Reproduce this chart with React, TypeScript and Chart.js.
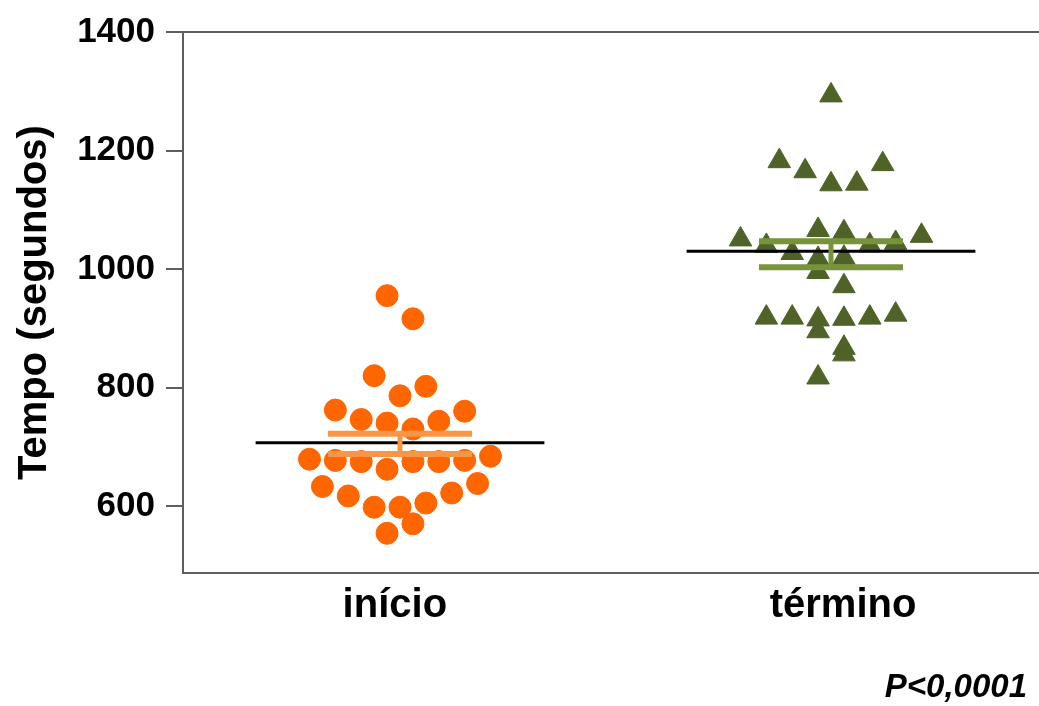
import { useEffect, useRef } from 'react';
import { Chart, registerables } from 'chart.js';

Chart.register(...registerables);

// ---- data ----
const categories = ['início', 'término'];
const yTicks = [600, 800, 1000, 1200, 1400];

const inicioValues = [955, 916, 820, 802, 786, 762, 760, 746, 740, 743, 730, 679, 677, 675, 662, 675, 675, 677, 684, 633, 617, 598, 598, 605, 622, 638, 554, 570];
// swarm column (half-marker steps left/right of the category centre)
const inicioColumns = [-1, 1, -2, 2, 0, -5, 5, -3, -1, 3, 1, -7, -5, -3, -1, 1, 3, 5, 7, -6, -4, -2, 0, 2, 4, 6, -1, 1];

const terminoValues = [1293, 1182, 1165, 1177, 1143, 1144, 1050, 1066, 1062, 1056, 1039, 1027, 1040, 1044, 1017, 1019, 995, 971, 918, 918, 915, 895, 916, 918, 923, 867, 856, 817];
const terminoColumns = [0, -4, -2, 4, 0, 2, -7, -1, 1, 7, -5, -3, 3, 5, -1, 1, -1, 1, -5, -3, -1, -1, 1, 3, 5, 1, 1, -1];

const means = [707, 1030];
const semHigh = [722, 1047];
const semLow = [688, 1003];
const pValueText = 'P<0,0001';

// ---- styling ----
const FONT = "'Liberation Sans', Arial, sans-serif";
const AXIS_COLOR = '#5e5e5e';
const POINT_COLORS = ['#ff6600', '#4f6228'];
const BAR_COLORS = ['#f79646', '#77933c'];
const COLUMN_STEP = 0.03;
const MEAN_HALF = 0.335;
const BAR_HALF = 0.167;
const LABEL_SHIFT = [-0.012, 0.028];

function buildDatasets() {
  const ds: any[] = [];
  // error bars (on top)
  categories.forEach((_, i) => {
    const c = i + 1;
    const segs = [
      [{ x: c - BAR_HALF, y: semHigh[i] }, { x: c + BAR_HALF, y: semHigh[i] }],
      [{ x: c - BAR_HALF, y: semLow[i] }, { x: c + BAR_HALF, y: semLow[i] }],
      [{ x: c, y: semLow[i] }, { x: c, y: semHigh[i] }],
    ];
    segs.forEach((d, k) => {
      ds.push({
        data: d,
        showLine: true,
        borderColor: BAR_COLORS[i],
        borderWidth: k === 2 ? 5 : 6,
        borderCapStyle: 'butt',
        pointRadius: 0,
        order: 1,
      });
    });
  });
  // mean lines
  categories.forEach((_, i) => {
    const c = i + 1;
    ds.push({
      data: [{ x: c - MEAN_HALF, y: means[i] }, { x: c + MEAN_HALF, y: means[i] }],
      showLine: true,
      borderColor: '#000000',
      borderWidth: 3,
      pointRadius: 0,
      order: 2,
    });
  });
  // points
  ds.push({
    data: inicioValues.map((v, i) => ({ x: 1 + inicioColumns[i] * COLUMN_STEP, y: v })),
    pointStyle: 'circle',
    pointRadius: 11,
    pointBackgroundColor: POINT_COLORS[0],
    pointBorderColor: POINT_COLORS[0],
    pointBorderWidth: 1,
    showLine: false,
    order: 3,
  });
  ds.push({
    data: terminoValues.map((v, i) => ({ x: 2 + terminoColumns[i] * COLUMN_STEP, y: v })),
    pointStyle: 'triangle',
    pointRadius: 13,
    pointBackgroundColor: POINT_COLORS[1],
    pointBorderColor: POINT_COLORS[1],
    pointBorderWidth: 1,
    showLine: false,
    order: 3,
  });
  return ds;
}

const framePlugin = {
  id: 'frameAndNote',
  beforeDatasetsDraw(chart: any) {
    const { ctx, chartArea } = chart;
    ctx.save();
    ctx.strokeStyle = AXIS_COLOR;
    ctx.lineWidth = 2;
    ctx.beginPath();
    ctx.moveTo(chartArea.left, chartArea.top);
    ctx.lineTo(chartArea.right, chartArea.top);
    ctx.stroke();
    ctx.restore();
  },
  afterDraw(chart: any) {
    const { ctx } = chart;
    ctx.save();
    ctx.font = `italic bold 33px ${FONT}`;
    ctx.fillStyle = '#000';
    ctx.textAlign = 'right';
    ctx.textBaseline = 'alphabetic';
    ctx.fillText(pValueText, chart.width - 12, chart.height - 9);
    ctx.restore();
  },
};

export default function App() {
  const canvasRef = useRef<HTMLCanvasElement | null>(null);

  useEffect(() => {
    if (!canvasRef.current) return;
    Chart.defaults.font.family = FONT;
    const labelAt = categories.map((_, i) => i + 1 + LABEL_SHIFT[i]);
    const chart = new Chart(canvasRef.current, {
      type: 'scatter',
      data: { datasets: buildDatasets() },
      options: {
        responsive: false,
        animation: false,
        layout: { autoPadding: false, padding: { top: 32, right: 0, bottom: 0, left: 0 } },
        plugins: { legend: { display: false }, tooltip: { enabled: false } },
        scales: {
          x: {
            type: 'linear',
            min: 0.4965,
            max: 2.4826,
            afterBuildTicks: (s: any) => {
              s.ticks = labelAt.map((v) => ({ value: v }));
            },
            afterFit: (s: any) => {
              s.height = 133;
              s.paddingLeft = 0;
              s.paddingRight = 0;
            },
            ticks: {
              callback: (_v: any, idx: number) => categories[idx] ?? '',
              font: { size: 40, weight: 'bold' },
              color: '#000',
              padding: 9,
              autoSkip: false,
              maxRotation: 0,
            },
            grid: { display: false, drawTicks: false },
            border: { display: true, color: AXIS_COLOR, width: 2 },
          },
          y: {
            type: 'linear',
            min: 487,
            max: 1400,
            afterBuildTicks: (s: any) => {
              s.ticks = yTicks.map((v) => ({ value: v }));
            },
            afterFit: (s: any) => {
              s.width = 183;
            },
            ticks: {
              callback: (v: any) => String(v),
              font: { size: 35, weight: 'bold' },
              color: '#000',
              padding: 11,
            },
            grid: {
              drawOnChartArea: false,
              drawTicks: true,
              tickLength: 17,
              color: AXIS_COLOR,
              lineWidth: 2,
            },
            border: { display: true, color: AXIS_COLOR, width: 2 },
            title: {
              display: true,
              text: 'Tempo (segundos)',
              font: { size: 40, weight: 'bold' },
              color: '#000',
              padding: { top: 11, bottom: 0 },
            },
          },
        },
      } as any,
      plugins: [framePlugin],
    });
    return () => chart.destroy();
  }, []);

  return (
    <div style={{ position: 'absolute', left: 0, top: 0, width: 1039, height: 706, background: '#fff' }}>
      <canvas ref={canvasRef} width={1039} height={706} style={{ display: 'block' }} />
    </div>
  );
}
